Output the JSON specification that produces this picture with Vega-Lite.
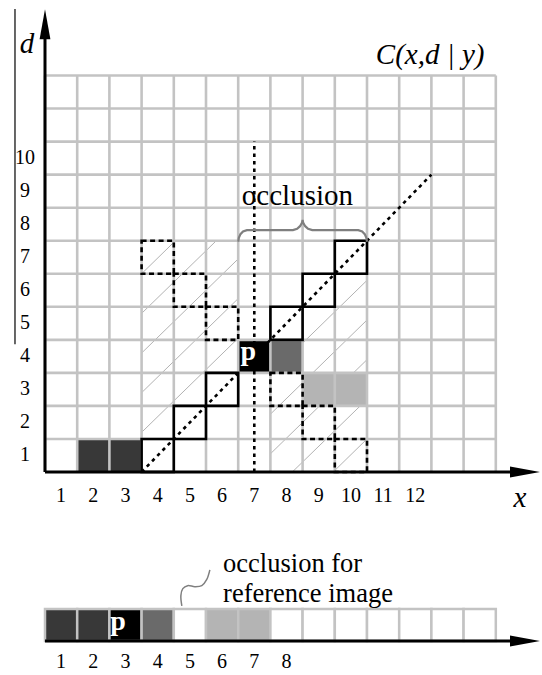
{
  "$schema": "https://vega.github.io/schema/vega-lite/v6.json",
  "width": 542,
  "height": 675,
  "autosize": {"type": "none"},
  "padding": 0,
  "background": "white",
  "config": {"view": {"stroke": null}, "font": "'Liberation Serif', 'Times New Roman', 'DejaVu Serif', serif"},
  "datasets": {
    "hatch": [
      {"x": 3, "y": 6.0, "x2": 4.05, "y2": 7},
      {"x": 3, "y": 4.8, "x2": 5.32, "y2": 7},
      {"x": 3, "y": 3.6, "x2": 6, "y2": 6.45},
      {"x": 3, "y": 2.4, "x2": 6, "y2": 5.25},
      {"x": 3, "y": 1.2, "x2": 6, "y2": 4.05},
      {"x": 10, "y": 1.0, "x2": 8.95, "y2": 0},
      {"x": 10, "y": 2.2, "x2": 7.68, "y2": 0},
      {"x": 10, "y": 3.4, "x2": 7, "y2": 0.55},
      {"x": 10, "y": 4.6, "x2": 7, "y2": 1.75},
      {"x": 10, "y": 5.8, "x2": 7, "y2": 2.95}
    ],
    "cells": [
      {"x": 1, "x2": 2, "y": 0, "y2": 1, "tone": "dark"},
      {"x": 2, "x2": 3, "y": 0, "y2": 1, "tone": "dark"},
      {"x": 6, "x2": 7, "y": 3, "y2": 4, "tone": "black"},
      {"x": 7, "x2": 8, "y": 3, "y2": 4, "tone": "mid"},
      {"x": 8, "x2": 9, "y": 2, "y2": 3, "tone": "light"},
      {"x": 9, "x2": 10, "y": 2, "y2": 3, "tone": "light"}
    ],
    "grid": [
      {"x": 0, "y": 0, "x2": 0, "y2": 12},
      {"x": 1, "y": 0, "x2": 1, "y2": 12},
      {"x": 2, "y": 0, "x2": 2, "y2": 12},
      {"x": 3, "y": 0, "x2": 3, "y2": 12},
      {"x": 4, "y": 0, "x2": 4, "y2": 12},
      {"x": 5, "y": 0, "x2": 5, "y2": 12},
      {"x": 6, "y": 0, "x2": 6, "y2": 12},
      {"x": 7, "y": 0, "x2": 7, "y2": 12},
      {"x": 8, "y": 0, "x2": 8, "y2": 12},
      {"x": 9, "y": 0, "x2": 9, "y2": 12},
      {"x": 10, "y": 0, "x2": 10, "y2": 12},
      {"x": 11, "y": 0, "x2": 11, "y2": 12},
      {"x": 12, "y": 0, "x2": 12, "y2": 12},
      {"x": 13, "y": 0, "x2": 13, "y2": 12},
      {"x": 14, "y": 0, "x2": 14, "y2": 12},
      {"x": 0, "y": 1, "x2": 14, "y2": 1},
      {"x": 0, "y": 2, "x2": 14, "y2": 2},
      {"x": 0, "y": 3, "x2": 14, "y2": 3},
      {"x": 0, "y": 4, "x2": 14, "y2": 4},
      {"x": 0, "y": 5, "x2": 14, "y2": 5},
      {"x": 0, "y": 6, "x2": 14, "y2": 6},
      {"x": 0, "y": 7, "x2": 14, "y2": 7},
      {"x": 0, "y": 8, "x2": 14, "y2": 8},
      {"x": 0, "y": 9, "x2": 14, "y2": 9},
      {"x": 0, "y": 10, "x2": 14, "y2": 10},
      {"x": 0, "y": 11, "x2": 14, "y2": 11},
      {"x": 0, "y": 12, "x2": 14, "y2": 12}
    ],
    "boxes": [
      {"x": 3, "x2": 4, "y": 0, "y2": 1, "edge": "solid"},
      {"x": 4, "x2": 5, "y": 1, "y2": 2, "edge": "solid"},
      {"x": 5, "x2": 6, "y": 2, "y2": 3, "edge": "solid"},
      {"x": 7, "x2": 8, "y": 4, "y2": 5, "edge": "solid"},
      {"x": 8, "x2": 9, "y": 5, "y2": 6, "edge": "solid"},
      {"x": 9, "x2": 10, "y": 6, "y2": 7, "edge": "solid"},
      {"x": 3, "x2": 4, "y": 6, "y2": 7, "edge": "dashed"},
      {"x": 4, "x2": 5, "y": 5, "y2": 6, "edge": "dashed"},
      {"x": 5, "x2": 6, "y": 4, "y2": 5, "edge": "dashed"},
      {"x": 7, "x2": 8, "y": 2, "y2": 3, "edge": "dashed"},
      {"x": 8, "x2": 9, "y": 1, "y2": 2, "edge": "dashed"},
      {"x": 9, "x2": 10, "y": 0, "y2": 1, "edge": "dashed"}
    ],
    "guides": [
      {"x": 3, "y": 0, "x2": 12, "y2": 9},
      {"x": 6.5, "y": 0, "x2": 6.5, "y2": 10}
    ],
    "brace": [
      {"i": 0, "x": 6.0, "y": 6.97},
      {"i": 1, "x": 6.02, "y": 7.09},
      {"i": 2, "x": 6.07, "y": 7.2},
      {"i": 3, "x": 6.15, "y": 7.28},
      {"i": 4, "x": 6.27, "y": 7.32},
      {"i": 5, "x": 7.7, "y": 7.32},
      {"i": 6, "x": 7.83, "y": 7.36},
      {"i": 7, "x": 7.92, "y": 7.44},
      {"i": 8, "x": 7.98, "y": 7.54},
      {"i": 9, "x": 8.0, "y": 7.63},
      {"i": 10, "x": 8.02, "y": 7.54},
      {"i": 11, "x": 8.08, "y": 7.44},
      {"i": 12, "x": 8.17, "y": 7.36},
      {"i": 13, "x": 8.3, "y": 7.32},
      {"i": 14, "x": 9.73, "y": 7.32},
      {"i": 15, "x": 9.85, "y": 7.28},
      {"i": 16, "x": 9.93, "y": 7.2},
      {"i": 17, "x": 9.98, "y": 7.09},
      {"i": 18, "x": 10.0, "y": 6.97}
    ],
    "strip": [
      {"x": 0, "x2": 1, "y": -5.115, "y2": -4.146, "tone": "dark"},
      {"x": 1, "x2": 2, "y": -5.115, "y2": -4.146, "tone": "dark"},
      {"x": 2, "x2": 3, "y": -5.115, "y2": -4.146, "tone": "black"},
      {"x": 3, "x2": 4, "y": -5.115, "y2": -4.146, "tone": "mid"},
      {"x": 4, "x2": 5, "y": -5.115, "y2": -4.146, "tone": "white"},
      {"x": 5, "x2": 6, "y": -5.115, "y2": -4.146, "tone": "light"},
      {"x": 6, "x2": 7, "y": -5.115, "y2": -4.146, "tone": "light"},
      {"x": 7, "x2": 8, "y": -5.115, "y2": -4.146, "tone": "white"},
      {"x": 8, "x2": 9, "y": -5.115, "y2": -4.146, "tone": "white"},
      {"x": 9, "x2": 10, "y": -5.115, "y2": -4.146, "tone": "white"},
      {"x": 10, "x2": 11, "y": -5.115, "y2": -4.146, "tone": "white"},
      {"x": 11, "x2": 12, "y": -5.115, "y2": -4.146, "tone": "white"},
      {"x": 12, "x2": 13, "y": -5.115, "y2": -4.146, "tone": "white"},
      {"x": 13, "x2": 14, "y": -5.115, "y2": -4.146, "tone": "white"}
    ],
    "axes": [
      {"x": 0, "y": 0, "x2": 0, "y2": 13.2},
      {"x": 0, "y": 0, "x2": 14.5, "y2": 0},
      {"x": 0, "y": -5.115, "x2": 14.5, "y2": -5.115}
    ],
    "frame": [
      {"x": -0.932, "y": 3.87, "x2": -0.932, "y2": 14.01}
    ],
    "arrows": [
      {"x": 0, "y": 13.55, "dir": "up"},
      {"x": 14.907, "y": 0, "dir": "right"},
      {"x": 14.907, "y": -5.115, "dir": "right"}
    ],
    "tilde": [
      {"i": 0, "x": 4.25, "y": -4.05},
      {"i": 1, "x": 4.22, "y": -3.74},
      {"i": 2, "x": 4.28, "y": -3.53},
      {"i": 3, "x": 4.43, "y": -3.44},
      {"i": 4, "x": 4.65, "y": -3.47},
      {"i": 5, "x": 4.87, "y": -3.44},
      {"i": 6, "x": 5.02, "y": -3.26},
      {"i": 7, "x": 5.12, "y": -2.96}
    ],
    "ticks": [
      {"x": -0.62, "y": 0.5, "text": "1"},
      {"x": -0.62, "y": 1.5, "text": "2"},
      {"x": -0.62, "y": 2.5, "text": "3"},
      {"x": -0.62, "y": 3.5, "text": "4"},
      {"x": -0.62, "y": 4.5, "text": "5"},
      {"x": -0.62, "y": 5.5, "text": "6"},
      {"x": -0.62, "y": 6.5, "text": "7"},
      {"x": -0.62, "y": 7.5, "text": "8"},
      {"x": -0.62, "y": 8.5, "text": "9"},
      {"x": -0.62, "y": 9.5, "text": "10"},
      {"x": 0.5, "y": -0.714, "text": "1"},
      {"x": 1.5, "y": -0.714, "text": "2"},
      {"x": 2.5, "y": -0.714, "text": "3"},
      {"x": 3.5, "y": -0.714, "text": "4"},
      {"x": 4.5, "y": -0.714, "text": "5"},
      {"x": 5.5, "y": -0.714, "text": "6"},
      {"x": 6.5, "y": -0.714, "text": "7"},
      {"x": 7.5, "y": -0.714, "text": "8"},
      {"x": 8.5, "y": -0.714, "text": "9"},
      {"x": 9.5, "y": -0.714, "text": "10"},
      {"x": 10.5, "y": -0.714, "text": "11"},
      {"x": 11.5, "y": -0.714, "text": "12"},
      {"x": 0.5, "y": -5.75, "text": "1"},
      {"x": 1.5, "y": -5.75, "text": "2"},
      {"x": 2.5, "y": -5.75, "text": "3"},
      {"x": 3.5, "y": -5.75, "text": "4"},
      {"x": 4.5, "y": -5.75, "text": "5"},
      {"x": 5.5, "y": -5.75, "text": "6"},
      {"x": 6.5, "y": -5.75, "text": "7"},
      {"x": 7.5, "y": -5.75, "text": "8"}
    ],
    "titles": [
      {"x": -0.56, "y": 12.68, "text": "d"},
      {"x": 14.75, "y": -1.06, "text": "x"},
      {"x": 11.96, "y": 12.36, "text": "C(x,d | y)"}
    ],
    "braceNote": [
      {"x": 7.84, "y": 8.08, "text": "occlusion"}
    ],
    "stripNote": [
      {"x": 5.53, "y": -3.03, "text": "occlusion for"},
      {"x": 5.53, "y": -3.94, "text": "reference image"}
    ],
    "pixel": [
      {"x": 6.31, "y": 3.375, "text": "p"},
      {"x": 2.27, "y": -4.77, "text": "p"}
    ]
  },
  "encoding": {
    "x": {"field": "x", "type": "quantitative", "scale": {"domain": [-1.3975, 15.4348], "nice": false, "zero": false}, "axis": null},
    "y": {"field": "y", "type": "quantitative", "scale": {"domain": [-6.144, 14.2857], "nice": false, "zero": false}, "axis": null}
  },
  "layer": [
    {
      "data": {"name": "hatch"},
      "mark": {"type": "rule", "color": "#a9a9a9", "strokeWidth": 0.9},
      "encoding": {"x2": {"field": "x2"}, "y2": {"field": "y2"}}
    },
    {
      "data": {"name": "cells"},
      "mark": {"type": "rect", "strokeWidth": 0},
      "encoding": {
        "x2": {"field": "x2"}, "y2": {"field": "y2"},
        "fill": {"field": "tone", "type": "nominal", "legend": null,
          "scale": {"domain": ["dark", "black", "mid", "light", "white"], "range": ["#383838", "#000000", "#6a6a6a", "#b4b4b4", "#ffffff"]}}
      }
    },
    {
      "data": {"name": "grid"},
      "mark": {"type": "rule", "color": "#c3c3c3", "strokeWidth": 2.6},
      "encoding": {"x2": {"field": "x2"}, "y2": {"field": "y2"}}
    },
    {
      "data": {"name": "boxes"},
      "transform": [{"filter": "datum.edge === 'solid'"}],
      "mark": {"type": "rect", "filled": false, "color": "#000000", "strokeWidth": 2.6},
      "encoding": {"x2": {"field": "x2"}, "y2": {"field": "y2"}}
    },
    {
      "data": {"name": "boxes"},
      "transform": [{"filter": "datum.edge === 'dashed'"}],
      "mark": {"type": "rect", "filled": false, "color": "#000000", "strokeWidth": 2.6, "strokeDash": [5, 3.5], "strokeCap": "butt"},
      "encoding": {"x2": {"field": "x2"}, "y2": {"field": "y2"}}
    },
    {
      "data": {"name": "guides"},
      "mark": {"type": "rule", "color": "#000000", "strokeWidth": 2.6, "strokeDash": [3.5, 4], "strokeCap": "butt"},
      "encoding": {"x2": {"field": "x2"}, "y2": {"field": "y2"}}
    },
    {
      "data": {"name": "brace"},
      "mark": {"type": "line", "color": "#7f7f7f", "strokeWidth": 2.2, "interpolate": "linear"},
      "encoding": {"order": {"field": "i", "type": "quantitative"}}
    },
    {
      "data": {"name": "strip"},
      "mark": {"type": "rect", "stroke": "#c3c3c3", "strokeWidth": 2.5},
      "encoding": {
        "x2": {"field": "x2"}, "y2": {"field": "y2"},
        "fill": {"field": "tone", "type": "nominal", "legend": null,
          "scale": {"domain": ["dark", "black", "mid", "light", "white"], "range": ["#383838", "#000000", "#6a6a6a", "#b4b4b4", "#ffffff"]}}
      }
    },
    {
      "data": {"name": "axes"},
      "mark": {"type": "rule", "color": "#000000", "strokeWidth": 3},
      "encoding": {"x2": {"field": "x2"}, "y2": {"field": "y2"}}
    },
    {
      "data": {"name": "frame"},
      "mark": {"type": "rule", "color": "#000000", "strokeWidth": 1.2},
      "encoding": {"x2": {"field": "x2"}, "y2": {"field": "y2"}}
    },
    {
      "data": {"name": "arrows"},
      "mark": {"type": "point", "filled": true, "color": "#000000", "size": 900, "opacity": 1, "strokeWidth": 0},
      "encoding": {
        "shape": {"field": "dir", "type": "nominal", "legend": null,
          "scale": {"domain": ["up", "right"], "range": ["M0,-1L0.36,1L-0.36,1Z", "M1,0L-1,0.36L-1,-0.36Z"]}}
      }
    },
    {
      "data": {"name": "tilde"},
      "mark": {"type": "line", "color": "#7f7f7f", "strokeWidth": 1.5, "interpolate": "catmull-rom"},
      "encoding": {"order": {"field": "i", "type": "quantitative"}}
    },
    {
      "data": {"name": "ticks"},
      "mark": {"type": "text", "font": "'Liberation Serif', 'Times New Roman', 'DejaVu Serif', serif", "fontSize": 20, "color": "#000000", "align": "center", "baseline": "middle"},
      "encoding": {"text": {"field": "text"}}
    },
    {
      "data": {"name": "titles"},
      "mark": {"type": "text", "font": "'Liberation Serif', 'Times New Roman', 'DejaVu Serif', serif", "fontSize": 29, "fontStyle": "italic", "color": "#000000", "align": "center", "baseline": "alphabetic"},
      "encoding": {"text": {"field": "text"}}
    },
    {
      "data": {"name": "braceNote"},
      "mark": {"type": "text", "font": "'Liberation Serif', 'Times New Roman', 'DejaVu Serif', serif", "fontSize": 29, "color": "#000000", "align": "center", "baseline": "alphabetic"},
      "encoding": {"text": {"field": "text"}}
    },
    {
      "data": {"name": "stripNote"},
      "mark": {"type": "text", "font": "'Liberation Serif', 'Times New Roman', 'DejaVu Serif', serif", "fontSize": 26.5, "color": "#000000", "align": "left", "baseline": "alphabetic"},
      "encoding": {"text": {"field": "text"}}
    },
    {
      "data": {"name": "pixel"},
      "mark": {"type": "text", "font": "'Liberation Serif', 'Times New Roman', 'DejaVu Serif', serif", "fontSize": 28, "fontWeight": "bold", "color": "#ffffff", "align": "center", "baseline": "alphabetic"},
      "encoding": {"text": {"field": "text"}}
    }
  ]
}
